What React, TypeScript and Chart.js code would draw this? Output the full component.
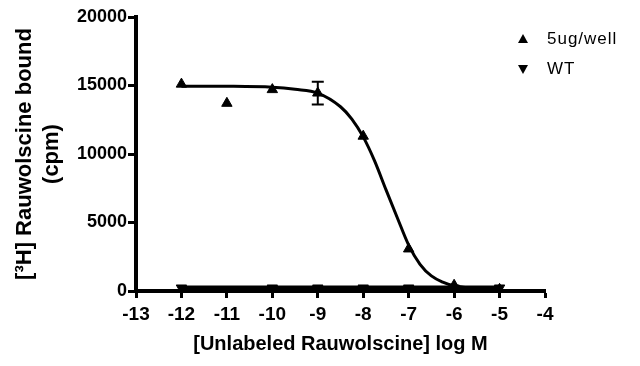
import React, { useEffect, useRef } from "react";
import { Chart, registerables } from "chart.js";

Chart.register(...registerables);

// Measured points, 5ug/well
const logConc5ug = [-12, -11, -10, -9, -8, -7, -6, -5];
const bound5ug = [15100, 13700, 14700, 14450, 11300, 3070, 420, 120];
const err5ug = [0, 0, 0, 830, 0, 0, 0, 0];

// Measured points, WT
const logConcWT = [-12, -10, -9, -8, -7, -6, -5];
const boundWT = [220, 220, 220, 220, 220, 220, 220];

// Fitted curve, 5ug/well
const fitX5ug = [-12, -11, -10, -9.5, -9, -8.5, -8.25, -8, -7.75, -7.5, -7.25, -7, -6.75, -6.5, -6.25, -6, -5.5, -5];
const fitY5ug = [14950, 14940, 14870, 14720, 14450, 13450, 12550, 11250, 9500, 7400, 5350, 3350, 1950, 1100, 650, 380, 160, 90];

// Fitted line, WT
const fitXWT = [-12, -5];
const fitYWT = [220, 220];

const xTicks = [-13, -12, -11, -10, -9, -8, -7, -6, -5, -4];
const yTicks = [0, 5000, 10000, 15000, 20000];

const seriesNames = ["5ug/well", "WT"];

const FONT = "Arial, 'Liberation Sans', sans-serif";

export default function App() {
  const ref = useRef<HTMLCanvasElement | null>(null);

  useEffect(() => {
    document.body.style.margin = "0";
    const canvas = ref.current!;

    const errorBars = {
      id: "errorBars",
      afterDatasetsDraw(chart: any) {
        const ctx = chart.ctx;
        const xs = chart.scales.x;
        const ys = chart.scales.y;
        ctx.save();
        ctx.strokeStyle = "#000";
        ctx.lineWidth = 2;
        logConc5ug.forEach((lx, i) => {
          const e = err5ug[i];
          if (!e) return;
          const px = xs.getPixelForValue(lx);
          const top = ys.getPixelForValue(bound5ug[i] + e);
          const bot = ys.getPixelForValue(bound5ug[i] - e);
          ctx.beginPath();
          ctx.moveTo(px, top);
          ctx.lineTo(px, bot);
          ctx.moveTo(px - 6, top);
          ctx.lineTo(px + 6, top);
          ctx.moveTo(px - 6, bot);
          ctx.lineTo(px + 6, bot);
          ctx.stroke();
        });
        ctx.restore();
      },
    };

    const legendPlugin = {
      id: "customLegend",
      afterDraw(chart: any) {
        const ctx = chart.ctx;
        ctx.save();
        ctx.fillStyle = "#000";
        ctx.font = `17px ${FONT}`;
        (ctx as any).letterSpacing = "1px";
        ctx.textBaseline = "middle";
        const lx = 523;
        const rows = [39, 69];
        seriesNames.forEach((name, i) => {
          const y = rows[i];
          ctx.beginPath();
          if (i === 0) {
            ctx.moveTo(lx, y - 5);
            ctx.lineTo(lx + 5, y + 4);
            ctx.lineTo(lx - 5, y + 4);
          } else {
            ctx.moveTo(lx, y + 5);
            ctx.lineTo(lx + 5, y - 4);
            ctx.lineTo(lx - 5, y - 4);
          }
          ctx.closePath();
          ctx.fill();
          ctx.fillText(name, 547, y);
        });
        ctx.restore();
      },
    };

    const chart = new Chart(canvas, {
      type: "scatter",
      data: {
        datasets: [
          {
            label: "fit 5ug",
            data: fitX5ug.map((x, i) => ({ x, y: fitY5ug[i] })),
            showLine: true,
            borderColor: "#000",
            borderWidth: 3,
            pointRadius: 0,
            cubicInterpolationMode: "monotone",
          } as any,
          {
            label: "fit WT",
            data: fitXWT.map((x, i) => ({ x, y: fitYWT[i] })),
            showLine: true,
            borderColor: "#000",
            borderWidth: 5,
            pointRadius: 0,
          } as any,
          {
            label: seriesNames[0],
            data: logConc5ug.map((x, i) => ({ x, y: bound5ug[i] })),
            pointStyle: "triangle",
            pointRadius: 6,
            backgroundColor: "#000",
            borderColor: "#000",
            borderWidth: 1,
          },
          {
            label: seriesNames[1],
            data: logConcWT.map((x, i) => ({ x, y: boundWT[i] })),
            pointStyle: "triangle",
            rotation: 180,
            pointRadius: 6,
            backgroundColor: "#000",
            borderColor: "#000",
            borderWidth: 1,
          } as any,
        ],
      },
      options: {
        animation: false,
        responsive: false,
        layout: { padding: { left: 10, top: 17, right: 95, bottom: 0 } },
        plugins: { legend: { display: false }, tooltip: { enabled: false } },
        scales: {
          x: {
            type: "linear",
            min: -13,
            max: -4,
            afterBuildTicks: (s: any) => {
              s.ticks = xTicks.map((v) => ({ value: v }));
            },
            afterFit: (s: any) => {
              s.height = 75;
            },
            grid: {
              drawOnChartArea: false,
              drawTicks: true,
              tickLength: 7,
              tickWidth: 3,
              tickColor: "#000",
            },
            border: { display: true, width: 4, color: "#000" },
            ticks: {
              color: "#000",
              font: { family: FONT, size: 19, weight: "bold" },
              padding: 5,
              maxRotation: 0,
            },
            title: {
              display: true,
              text: "[Unlabeled Rauwolscine] log M",
              color: "#000",
              font: { family: FONT, size: 20, weight: "bold" },
              padding: { top: 4, bottom: 10 },
            },
          },
          y: {
            type: "linear",
            min: 0,
            max: 20000,
            afterBuildTicks: (s: any) => {
              s.ticks = yTicks.map((v) => ({ value: v }));
            },
            afterFit: (s: any) => {
              s.width = 126;
            },
            grid: {
              drawOnChartArea: false,
              drawTicks: true,
              tickLength: 8,
              tickWidth: 3,
              tickColor: "#000",
            },
            border: { display: true, width: 4, color: "#000" },
            ticks: {
              color: "#000",
              font: { family: FONT, size: 18, weight: "bold" },
              padding: 1,
              callback: (v: any) => String(v),
            },
            title: {
              display: true,
              text: ["[³H] Rauwolscine bound", "(cpm)"],
              color: "#000",
              font: { family: FONT, size: 22, weight: "bold", lineHeight: 1.2 },
              padding: { top: 2, bottom: 2 },
            },
          },
        },
      },
      plugins: [errorBars, legendPlugin],
    } as any);

    return () => chart.destroy();
  }, []);

  return (
    <div style={{ position: "fixed", left: 0, top: 0, width: 640, height: 366, background: "#fff" }}>
      <canvas ref={ref} width={640} height={366} style={{ width: 640, height: 366 }} />
    </div>
  );
}
